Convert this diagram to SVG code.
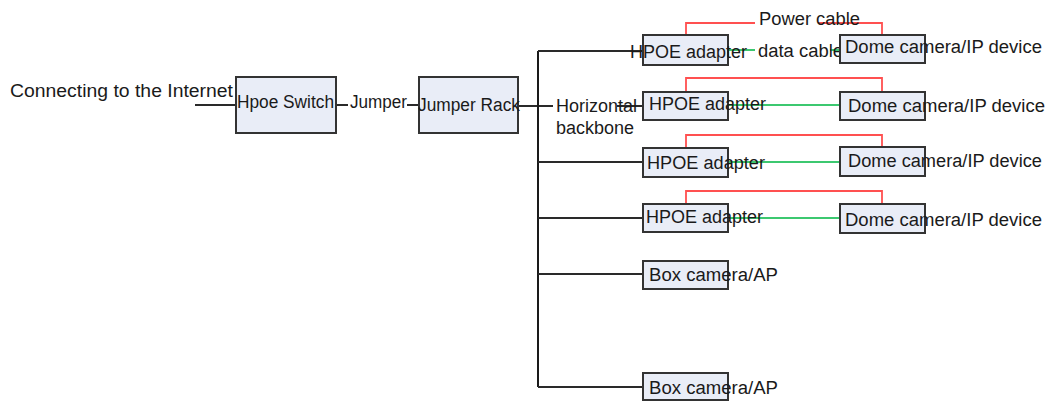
<svg xmlns="http://www.w3.org/2000/svg" width="1049" height="401" viewBox="0 0 1049 401">
<style>
.bg{fill:#ffffff}
.box{fill:#e9edf7;stroke:#333333;stroke-width:2}
.t{font-family:"Liberation Sans",Arial,sans-serif;font-size:18px;fill:#1a1a1a}
.wire{fill:none;stroke:#2a2a2a;stroke-width:1.8}
.trunk{fill:none;stroke:#1a1a1a;stroke-width:2}
.pwr{fill:none;stroke:#ff5050;stroke-width:1.8}
.dat{fill:none;stroke:#3cc870;stroke-width:1.8}
</style>
<rect class="bg" x="0" y="0" width="1049" height="401"/>
<g id="connectors">
<path class="wire" d="M195 105H236"/>
<path class="wire" d="M336 105H348M407 105H419"/>
<path class="wire" d="M518 106H553M617 106H643"/>
<path class="trunk" d="M538 51V387"/>
<path class="wire" d="M538 51H643M538 162H643M538 218H643M538 274H643M538 387H643"/>
<path class="pwr" d="M686 35V23H755M818 23H882V35"/>
<path class="pwr" d="M686 92V78H882V92"/>
<path class="pwr" d="M686 148V135H882V147"/>
<path class="pwr" d="M686 204V191H882V204"/>
<path class="dat" d="M728 50H755M830 50H840"/>
<path class="dat" d="M728 105H840"/>
<path class="dat" d="M728 162H840"/>
<path class="dat" d="M728 218H840"/>
<text class="t" x="350" y="108" textLength="57" lengthAdjust="spacingAndGlyphs">Jumper</text>
<text class="t" x="556" y="112" textLength="81" lengthAdjust="spacingAndGlyphs">Horizontal</text>
<text class="t" x="556" y="134" textLength="78" lengthAdjust="spacingAndGlyphs">backbone</text>
<text class="t" x="759" y="25" textLength="101" lengthAdjust="spacingAndGlyphs">Power cable</text>
<text class="t" x="758" y="57" textLength="85" lengthAdjust="spacingAndGlyphs">data cable</text>
</g>
<g id="internet">
<text class="t" x="10" y="97" textLength="223" lengthAdjust="spacingAndGlyphs">Connecting to the Internet</text>
</g>
<g id="hpoe-switch">
<rect class="box" x="236" y="77" width="100" height="56"/>
<text class="t" x="237" y="108" textLength="97" lengthAdjust="spacingAndGlyphs">Hpoe Switch</text>
</g>
<g id="jumper-rack">
<rect class="box" x="419" y="77" width="99" height="56"/>
<text class="t" x="418" y="111" textLength="102" lengthAdjust="spacingAndGlyphs">Jumper Rack</text>
</g>
<g id="hpoe-adapter-1">
<rect class="box" x="643" y="35" width="85" height="30"/>
<text class="t" x="630" y="58" textLength="117" lengthAdjust="spacingAndGlyphs">HPOE adapter</text>
</g>
<g id="hpoe-adapter-2">
<rect class="box" x="643" y="92" width="85" height="28"/>
<text class="t" x="649" y="110" textLength="117" lengthAdjust="spacingAndGlyphs">HPOE adapter</text>
</g>
<g id="hpoe-adapter-3">
<rect class="box" x="643" y="148" width="85" height="29"/>
<text class="t" x="647" y="169" textLength="118" lengthAdjust="spacingAndGlyphs">HPOE adapter</text>
</g>
<g id="hpoe-adapter-4">
<rect class="box" x="643" y="204" width="85" height="28"/>
<text class="t" x="646" y="223" textLength="117" lengthAdjust="spacingAndGlyphs">HPOE adapter</text>
</g>
<g id="dome-1">
<rect class="box" x="840" y="35" width="85" height="28"/>
<text class="t" x="845" y="53" textLength="197" lengthAdjust="spacingAndGlyphs">Dome camera/IP device</text>
</g>
<g id="dome-2">
<rect class="box" x="840" y="92" width="85" height="28"/>
<text class="t" x="848" y="112" textLength="197" lengthAdjust="spacingAndGlyphs">Dome camera/IP device</text>
</g>
<g id="dome-3">
<rect class="box" x="840" y="147" width="85" height="29"/>
<text class="t" x="848" y="167" textLength="194" lengthAdjust="spacingAndGlyphs">Dome camera/IP device</text>
</g>
<g id="dome-4">
<rect class="box" x="840" y="204" width="85" height="29"/>
<text class="t" x="845" y="226" textLength="197" lengthAdjust="spacingAndGlyphs">Dome camera/IP device</text>
</g>
<g id="box-camera-1">
<rect class="box" x="643" y="261" width="85" height="28"/>
<text class="t" x="649" y="281" textLength="129" lengthAdjust="spacingAndGlyphs">Box camera/AP</text>
</g>
<g id="box-camera-2">
<rect class="box" x="643" y="373" width="85" height="27"/>
<text class="t" x="649" y="394" textLength="129" lengthAdjust="spacingAndGlyphs">Box camera/AP</text>
</g>
</svg>
